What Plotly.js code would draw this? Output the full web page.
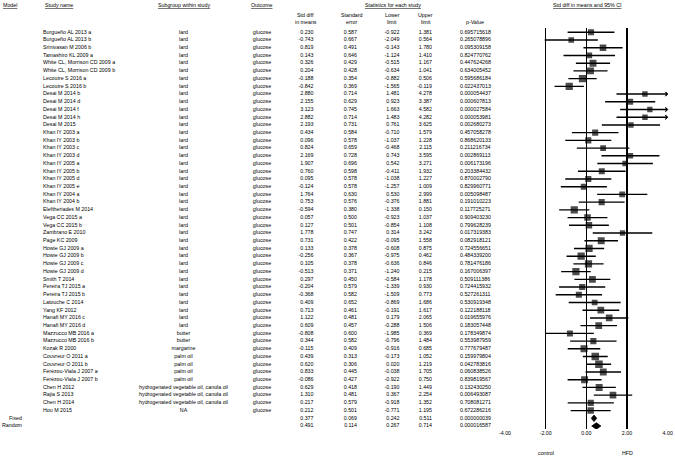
<!DOCTYPE html>
<html><head><meta charset="utf-8">
<script src="https://cdn.plot.ly/plotly-3.0.1.min.js"></script>
<style>html,body{margin:0;padding:0;background:#fff}</style>
</head><body><div id="chart" style="width:675px;height:458px"></div>
<script>
const studyNames = ['Burgueño AL 2013 a','Burgueño AL 2013 b','Srinivasan M 2006 b','Tamashiro KL 2009 a','White CL, Morrison CD 2009 a','White CL, Morrison CD 2009 b','Lecoutre S 2016 a','Lecoutre S 2016 b','Desai M 2014 b','Desai M 2014 d','Desai M 2014 f','Desai M 2014 h','Desai M 2015','Khan IY 2003 a','Khan IY 2003 b','Khan IY 2003 c','Khan IY 2003 d','Khan IY 2005 a','Khan IY 2005 b','Khan IY 2005 d','Khan IY 2005 e','Khan IY 2004 a','Khan IY 2004 b','Eleftheriades M 2014','Vega CC 2015 a','Vega CC 2015 b','Zambrano E 2010','Page KC 2009','Howie GJ 2009 a','Howie GJ 2009 b','Howie GJ 2009 c','Howie GJ 2009 d','Smith T 2014','Pereira TJ 2015 a','Pereira TJ 2015 b','Latouche C 2014','Yang KF 2012','Hanafi MY 2016 c','Hanafi MY 2016 d','Mazzucco MB 2016 a','Mazzucco MB 2016 b','Kozak R 2000','Couvreur O 2011 a','Couvreur O 2011 b','Férézou-Viala J 2007 a','Férézou-Viala J 2007 b','Chen H 2012','Rajia S 2013','Chen H 2014','Hou M 2015'];
const subgroups = ['lard','lard','lard','lard','lard','lard','lard','lard','lard','lard','lard','lard','lard','lard','lard','lard','lard','lard','lard','lard','lard','lard','lard','lard','lard','lard','lard','lard','lard','lard','lard','lard','lard','lard','lard','lard','lard','lard','lard','butter','butter','margarine','palm oil','palm oil','palm oil','palm oil','hydrogenated vegetable oil, canola oil','hydrogenated vegetable oil, canola oil','hydrogenated vegetable oil, canola oil','NA'];
const outcomes = ['glucose','glucose','glucose','glucose','glucose','glucose','glucose','glucose','glucose','glucose','glucose','glucose','glucose','glucose','glucose','glucose','glucose','glucose','glucose','glucose','glucose','glucose','glucose','glucose','glucose','glucose','glucose','glucose','glucose','glucose','glucose','glucose','glucose','glucose','glucose','glucose','glucose','glucose','glucose','glucose','glucose','glucose','glucose','glucose','glucose','glucose','glucose','glucose','glucose','glucose'];
const stdDiff = [0.230,-0.743,0.819,0.143,0.326,0.204,-0.188,-0.842,2.880,2.155,3.123,2.882,2.193,0.434,0.096,0.824,2.169,1.907,0.760,0.095,-0.124,1.764,0.753,-0.594,0.057,0.127,1.778,0.731,0.133,-0.256,0.105,-0.513,0.297,-0.204,-0.368,0.409,0.713,1.122,0.609,-0.808,0.344,-0.115,0.439,0.620,0.833,-0.086,0.629,1.310,0.217,0.212];
const stdErr = [0.587,0.667,0.491,0.646,0.429,0.428,0.354,0.369,0.714,0.629,0.745,0.714,0.731,0.584,0.578,0.659,0.728,0.696,0.598,0.578,0.578,0.630,0.576,0.380,0.500,0.501,0.747,0.422,0.378,0.367,0.378,0.371,0.450,0.579,0.582,0.652,0.461,0.481,0.457,0.600,0.582,0.409,0.313,0.306,0.445,0.427,0.418,0.481,0.579,0.501];
const lowerLimit = [-0.922,-2.049,-0.143,-1.124,-0.515,-0.634,-0.882,-1.565,1.481,0.923,1.663,1.483,0.761,-0.710,-1.037,-0.468,0.743,0.542,-0.411,-1.038,-1.257,0.530,-0.376,-1.338,-0.923,-0.854,0.314,-0.095,-0.608,-0.975,-0.636,-1.240,-0.584,-1.339,-1.509,-0.869,-0.191,0.179,-0.288,-1.985,-0.796,-0.916,-0.173,0.020,-0.038,-0.922,-0.190,0.367,-0.918,-0.771];
const upperLimit = [1.381,0.564,1.780,1.410,1.167,1.041,0.506,-0.119,4.278,3.387,4.582,4.282,3.625,1.579,1.228,2.115,3.595,3.271,1.932,1.227,1.009,2.999,1.881,0.150,1.037,1.108,3.242,1.558,0.875,0.462,0.846,0.215,1.178,0.930,0.773,1.686,1.617,2.065,1.506,0.369,1.484,0.685,1.052,1.219,1.705,0.750,1.449,2.254,1.352,1.195];
const pValues = ['0.695715618','0.265078896','0.095309158','0.824770762','0.447624268','0.634005452','0.595686184','0.022437013','0.000054437','0.000607813','0.000027584','0.000053981','0.002680273','0.457058278','0.868620133','0.211216734','0.002869113','0.006173196','0.203384432','0.870002790','0.829960771','0.005098487','0.191010223','0.117725271','0.909403230','0.799628239','0.017319383','0.082918121','0.724556651','0.484339200','0.781476186','0.167006397','0.509111386','0.724415932','0.527261311','0.530919348','0.122188118','0.019655976','0.183057448','0.178349874','0.553987959','0.777679487','0.159979804','0.042783816','0.060838526','0.839819567','0.132430250','0.006493087','0.708081271','0.672286216'];
const modelNames = ['Fixed','Random'];
const modelStdDiff = [0.377,0.491];
const modelStdErr = [0.069,0.114];
const modelLower = [0.242,0.267];
const modelUpper = [0.511,0.714];
const modelP = ['0.000000039','0.000016587'];
const tickValues = [-4,-2,0,2,4];
const tickLabels = ['-4.00','-2.00','0.00','2.00','4.00'];
const directionLabels = ['control','HFD'];
const directionValues = [-2,2];

// ---- derived ----
const W = 675, H = 458;
const nStudies = studyNames.length;
const studyRows = studyNames.map((_, i) => i);
const modelRows = modelNames.map((_, i) => nStudies + i);
const allRows = studyRows.concat(modelRows);
const XMIN = tickValues[0], XMAX = tickValues[tickValues.length - 1];
const clip = v => Math.max(XMIN, Math.min(XMAX, v));
const FONT = 'Arial, "Liberation Sans", sans-serif';
const FS = 5.3;

// CI lines
const ciX = [], ciY = [];
studyRows.forEach(i => { ciX.push(clip(lowerLimit[i]), clip(upperLimit[i]), null); ciY.push(i, i, null); });
// square size from random-effects style weights
const tau2 = 0.35;
const wts = stdErr.map(s => 1 / (s * s + tau2));
const wMax = Math.max(...wts);
const sizes = wts.map(w => 7.6 * Math.sqrt(w / wMax));

const arrowX = [], arrowY = [];
studyRows.forEach(i => { if (upperLimit[i] > XMAX) { arrowX.push(XMAX); arrowY.push(i); } });

const traces = [];
traces.push({type:'scatter', mode:'lines', x:ciX, y:ciY, xaxis:'x', yaxis:'y', line:{color:'#000', width:1.4}, hoverinfo:'skip', showlegend:false});
traces.push({type:'scatter', mode:'markers', x:stdDiff, y:studyRows, xaxis:'x', yaxis:'y', marker:{symbol:'square', color:'#000', size:sizes, line:{width:0}}, showlegend:false});
traces.push({type:'scatter', mode:'markers', x:arrowX, y:arrowY, xaxis:'x', yaxis:'y', marker:{symbol:'arrow-wide-open', angle:90, color:'#000', size:3, line:{width:1, color:'#000'}}, cliponaxis:false, showlegend:false});
modelRows.forEach((r, k) => {
  const h = 0.42;
  traces.push({type:'scatter', mode:'lines', fill:'toself', fillcolor:'#000',
    x:[modelLower[k], modelStdDiff[k], modelUpper[k], modelStdDiff[k], modelLower[k]],
    y:[r, r - h, r, r + h, r], xaxis:'x', yaxis:'y', line:{color:'#000', width:0.8}, showlegend:false});
});

// table text columns (x in pixel units of an invisible full-width axis)
function col(xpos, pos, rows, texts) {
  traces.push({type:'scatter', mode:'text', x:rows.map(() => xpos), y:rows, text:texts, textposition:pos,
    xaxis:'x2', yaxis:'y', cliponaxis:false, textfont:{family:FONT, size:FS, color:'#000'}, hoverinfo:'skip', showlegend:false});
}
const f3 = v => v.toFixed(3);
col(22, 'middle left', modelRows, modelNames);
col(43, 'middle right', studyRows, studyNames);
col(183.5, 'middle center', studyRows, subgroups);
col(262, 'middle center', studyRows, outcomes);
col(313.5, 'middle left', allRows, stdDiff.concat(modelStdDiff).map(f3));
col(357, 'middle left', allRows, stdErr.concat(modelStdErr).map(f3));
col(399.5, 'middle left', allRows, lowerLimit.concat(modelLower).map(f3));
col(432, 'middle left', allRows, upperLimit.concat(modelUpper).map(f3));
col(460, 'middle right', allRows, pValues.concat(modelP));

const rowTop = 32.3, rowStep = 7.72;
const yTopPx = 28, yBotPx = 429;
const yRange = [(yBotPx - rowTop) / rowStep, (yTopPx - rowTop) / rowStep];

function hdr(text, xpx, ypx, anchor) {
  return {text:text, xref:'paper', yref:'paper', x:xpx / W, y:1 - ypx / H, xanchor:anchor || 'center', yanchor:'middle',
    showarrow:false, font:{family:FONT, size:FS, color:'#000'}};
}
const annotations = [
  hdr('<u>Model</u>', 9.5, 5), hdr('<u>Study name</u>', 43, 5, 'left'), hdr('<u>Subgroup within study</u>', 184, 5),
  hdr('<u>Outcome</u>', 262, 5), hdr('<u>Statistics for each study</u>', 393, 5), hdr('<u>Std diff in means and 95% CI</u>', 587, 5),
  hdr('Std diff', 305.5, 15.5), hdr('in means', 305.5, 22), hdr('Standard', 352, 15.5), hdr('error', 352, 22),
  hdr('Lower', 392, 15.5), hdr('limit', 392, 22), hdr('Upper', 426, 15.5), hdr('limit', 426, 22), hdr('p-Value', 475, 22)
];
directionLabels.forEach((t, k) => annotations.push({text:t, xref:'x', yref:'paper', x:directionValues[k], y:1 - 453 / H,
  xanchor:'center', yanchor:'middle', showarrow:false, font:{family:FONT, size:FS, color:'#000'}}));

const layout = {
  width:W, height:H, margin:{l:0, r:0, t:0, b:0}, paper_bgcolor:'#fff', plot_bgcolor:'rgba(0,0,0,0)',
  showlegend:false, font:{family:FONT, size:FS, color:'#000'},
  xaxis:{domain:[505 / W, 667.7 / W], range:[XMIN, XMAX], anchor:'y', tickvals:tickValues, ticktext:tickLabels,
    showgrid:true, gridcolor:'#000', gridwidth:1.6, zeroline:true, zerolinecolor:'#000', zerolinewidth:1.6,
    showline:false, ticks:'', tickfont:{family:FONT, size:FS, color:'#000'}, fixedrange:true},
  xaxis2:{domain:[0, 1], range:[0, W], anchor:'y', visible:false, fixedrange:true},
  yaxis:{domain:[1 - yBotPx / H, 1 - yTopPx / H], range:yRange, visible:false, showgrid:false, zeroline:false, fixedrange:true},
  annotations:annotations
};
Plotly.newPlot('chart', traces, layout, {staticPlot:true, displayModeBar:false});
</script></body></html>
